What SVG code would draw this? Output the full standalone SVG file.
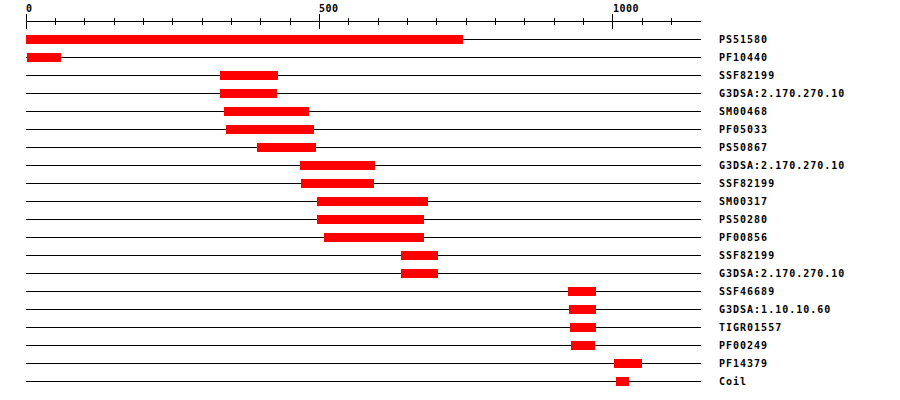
<svg xmlns="http://www.w3.org/2000/svg" width="900" height="400" viewBox="0 0 900 400">
<style>
.t{font-family:"DejaVu Sans Mono","Liberation Mono",monospace;font-weight:bold;font-size:10px;fill:#000}
.lbl{letter-spacing:1px}
.rl{letter-spacing:0.5px}
.trk{stroke:#000;stroke-width:1}
.bar{fill:#ff0000}
.tk{stroke:#000;stroke-width:1}
</style>
<rect width="900" height="400" fill="#fff"/>
<g id="ruler">
<line class="tk" x1="26" y1="21.5" x2="701" y2="21.5"/>
<path class="tk" d="M26.5 14V29M319.5 14V29M612.5 14V29M55.5 18V25M84.5 18V25M114.5 18V25M143.5 18V25M172.5 18V25M202.5 18V25M231.5 18V25M260.5 18V25M290.5 18V25M348.5 18V25M378.5 18V25M407.5 18V25M436.5 18V25M466.5 18V25M495.5 18V25M524.5 18V25M554.5 18V25M583.5 18V25M642.5 18V25M671.5 18V25"/>
<text class="t rl" x="26" y="12">0</text>
<text class="t rl" x="319" y="12">500</text>
<text class="t rl" x="613" y="12">1000</text>
</g>
<g id="row0"><line class="trk" x1="26" y1="39.5" x2="701" y2="39.5"/><rect class="bar" x="26" y="35" width="437" height="9"/><text class="t lbl" x="719" y="43">PS51580</text></g>
<g id="row1"><line class="trk" x1="26" y1="57.5" x2="701" y2="57.5"/><rect class="bar" x="27" y="53" width="34" height="9"/><text class="t lbl" x="719" y="61">PF10440</text></g>
<g id="row2"><line class="trk" x1="26" y1="75.5" x2="701" y2="75.5"/><rect class="bar" x="220" y="71" width="58" height="9"/><text class="t lbl" x="719" y="79">SSF82199</text></g>
<g id="row3"><line class="trk" x1="26" y1="93.5" x2="701" y2="93.5"/><rect class="bar" x="220" y="89" width="57" height="9"/><text class="t lbl" x="719" y="97">G3DSA:2.170.270.10</text></g>
<g id="row4"><line class="trk" x1="26" y1="111.5" x2="701" y2="111.5"/><rect class="bar" x="224" y="107" width="85" height="9"/><text class="t lbl" x="719" y="115">SM00468</text></g>
<g id="row5"><line class="trk" x1="26" y1="129.5" x2="701" y2="129.5"/><rect class="bar" x="226" y="125" width="88" height="9"/><text class="t lbl" x="719" y="133">PF05033</text></g>
<g id="row6"><line class="trk" x1="26" y1="147.5" x2="701" y2="147.5"/><rect class="bar" x="257" y="143" width="59" height="9"/><text class="t lbl" x="719" y="151">PS50867</text></g>
<g id="row7"><line class="trk" x1="26" y1="165.5" x2="701" y2="165.5"/><rect class="bar" x="300" y="161" width="75" height="9"/><text class="t lbl" x="719" y="169">G3DSA:2.170.270.10</text></g>
<g id="row8"><line class="trk" x1="26" y1="183.5" x2="701" y2="183.5"/><rect class="bar" x="301" y="179" width="73" height="9"/><text class="t lbl" x="719" y="187">SSF82199</text></g>
<g id="row9"><line class="trk" x1="26" y1="201.5" x2="701" y2="201.5"/><rect class="bar" x="317" y="197" width="111" height="9"/><text class="t lbl" x="719" y="205">SM00317</text></g>
<g id="row10"><line class="trk" x1="26" y1="219.5" x2="701" y2="219.5"/><rect class="bar" x="317" y="215" width="107" height="9"/><text class="t lbl" x="719" y="223">PS50280</text></g>
<g id="row11"><line class="trk" x1="26" y1="237.5" x2="701" y2="237.5"/><rect class="bar" x="324" y="233" width="100" height="9"/><text class="t lbl" x="719" y="241">PF00856</text></g>
<g id="row12"><line class="trk" x1="26" y1="255.5" x2="701" y2="255.5"/><rect class="bar" x="401" y="251" width="37" height="9"/><text class="t lbl" x="719" y="259">SSF82199</text></g>
<g id="row13"><line class="trk" x1="26" y1="273.5" x2="701" y2="273.5"/><rect class="bar" x="401" y="269" width="37" height="9"/><text class="t lbl" x="719" y="277">G3DSA:2.170.270.10</text></g>
<g id="row14"><line class="trk" x1="26" y1="291.5" x2="701" y2="291.5"/><rect class="bar" x="568" y="287" width="28" height="9"/><text class="t lbl" x="719" y="295">SSF46689</text></g>
<g id="row15"><line class="trk" x1="26" y1="309.5" x2="701" y2="309.5"/><rect class="bar" x="569" y="305" width="27" height="9"/><text class="t lbl" x="719" y="313">G3DSA:1.10.10.60</text></g>
<g id="row16"><line class="trk" x1="26" y1="327.5" x2="701" y2="327.5"/><rect class="bar" x="570" y="323" width="26" height="9"/><text class="t lbl" x="719" y="331">TIGR01557</text></g>
<g id="row17"><line class="trk" x1="26" y1="345.5" x2="701" y2="345.5"/><rect class="bar" x="571" y="341" width="24" height="9"/><text class="t lbl" x="719" y="349">PF00249</text></g>
<g id="row18"><line class="trk" x1="26" y1="363.5" x2="701" y2="363.5"/><rect class="bar" x="614" y="359" width="28" height="9"/><text class="t lbl" x="719" y="367">PF14379</text></g>
<g id="row19"><line class="trk" x1="26" y1="381.5" x2="701" y2="381.5"/><rect class="bar" x="616" y="377" width="13" height="9"/><text class="t lbl" x="719" y="385">Coil</text></g>
<g id="connectors"></g>
</svg>
